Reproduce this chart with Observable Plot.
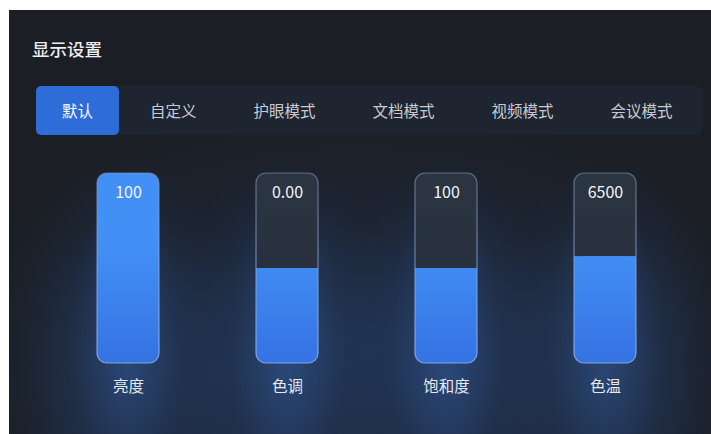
<!DOCTYPE html>
<html><head><meta charset="utf-8">
<script src="https://cdn.jsdelivr.net/npm/d3@7"></script>
<script src="https://cdn.jsdelivr.net/npm/@observablehq/plot@0.6"></script>
<style>
body{margin:0;background:#fff;width:711px;height:434px;overflow:hidden;font-family:"Noto Sans CJK SC","Noto Sans",sans-serif;}
#panel{position:absolute;left:9px;top:10px;width:702px;height:424px;overflow:hidden;
  background: radial-gradient(ellipse 440px 250px at 50% 78%, rgba(35,60,100,0.4), rgba(35,60,100,0) 100%), #1b1e24;}
#title{position:absolute;left:23px;top:30px;line-height:18px;font-size:17.5px;font-weight:500;color:#eceef2;}
#tabs{position:absolute;left:27px;top:76px;width:667px;height:49px;background:#1f2530;border-radius:8px;display:flex;gap:5px;align-items:center;}
.tab{padding:0 26px;height:49px;line-height:49px;font-size:15.5px;color:#c6cbd3;border-radius:5px;white-space:nowrap;}
.tab.active{background:#2e6cd8;color:#fff;}
#chart{position:absolute;left:0;top:125px;}
</style></head>
<body>
<div id="panel">
  <div id="title">显示设置</div>
  <div id="tabs"></div>
  <div id="chart"></div>
</div>
<script>
const tabNames = ["默认","自定义","护眼模式","文档模式","视频模式","会议模式"];
const activeTab = "默认";
const names = ["亮度","色调","饱和度","色温"];
const values = [100, 0, 100, 6500];
const valueLabels = ["100","0.00","100","6500"];
const mins = [0, -1, 0, 2000];
const maxs = [100, 1, 200, 10000];

const tabs = document.getElementById("tabs");
for (const t of tabNames) {
  const el = document.createElement("div");
  el.className = "tab" + (t === activeTab ? " active" : "");
  el.textContent = t;
  tabs.appendChild(el);
}

const rows = names.map((name, i) => ({
  name, value: values[i], label: valueLabels[i],
  frac: (values[i] - mins[i]) / (maxs[i] - mins[i])
}));

const svg = Plot.plot({
  width: 702, height: 299,
  style: {background: "transparent", fontFamily: '"Noto Sans CJK SC","Noto Sans",sans-serif', overflow: "hidden"},
  x: {domain: names, range: [39.4, 676.6], paddingInner: 0.61, paddingOuter: 0.305, axis: null},
  y: {domain: [0, 1], range: [228, 38], axis: null},
  marks: [
    Plot.barY(rows, {x: "name", y1: -1.1, y2: 1.2, fill: "url(#glow)", insetLeft: -95, insetRight: -95}),
    Plot.barY(rows, {x: "name", y1: -0.6, y2: 0.95, fill: "url(#glow2)", insetLeft: -30, insetRight: -30}),
    Plot.barY(rows, {x: "name", y1: 0, y2: 1, fill: "url(#track)", rx: 10}),
    Plot.barY(rows, {x: "name", y1: 0, y2: "frac", fill: "url(#fillGrad)", rx: 10}),
    Plot.barY(rows.filter(d => d.frac < 1), {x: "name", y1: d => d.frac / 2, y2: "frac", fill: "url(#fillGrad)"}),
    Plot.barY(rows, {x: "name", y1: 0, y2: 1, fill: "none", stroke: "url(#outline)", strokeWidth: 1.2, rx: 10}),
    Plot.text(rows, {x: "name", y: 1, dy: 19, text: "label", fill: "#f2f4f8", fontSize: 16}),
    Plot.text(rows, {x: "name", y: 0, dy: 24, text: "name", fill: "#e6e9ee", fontSize: 15.5})
  ]
});

const defs = d3.select(svg).insert("defs", ":first-child");
const glow = defs.append("radialGradient").attr("id", "glow").attr("cx", 0.5).attr("cy", 0.55).attr("r", 0.5);
glow.append("stop").attr("offset", 0).attr("stop-color", "rgb(50,95,170)").attr("stop-opacity", 0.36);
glow.append("stop").attr("offset", 0.6).attr("stop-color", "rgb(40,75,135)").attr("stop-opacity", 0.2);
glow.append("stop").attr("offset", 1).attr("stop-color", "rgb(30,50,90)").attr("stop-opacity", 0);
const glow2 = defs.append("radialGradient").attr("id", "glow2").attr("cx", 0.5).attr("cy", 0.55).attr("r", 0.5);
glow2.append("stop").attr("offset", 0).attr("stop-color", "rgb(60,110,190)").attr("stop-opacity", 0.3);
glow2.append("stop").attr("offset", 0.7).attr("stop-color", "rgb(50,95,170)").attr("stop-opacity", 0.1);
glow2.append("stop").attr("offset", 1).attr("stop-color", "rgb(40,80,150)").attr("stop-opacity", 0);
const track = defs.append("linearGradient").attr("id", "track").attr("gradientUnits", "userSpaceOnUse")
  .attr("x1", 0).attr("x2", 0).attr("y1", 38).attr("y2", 228);
track.append("stop").attr("offset", 0).attr("stop-color", "#2c3643");
track.append("stop").attr("offset", 1).attr("stop-color", "#222a35");
const fg = defs.append("linearGradient").attr("id", "fillGrad").attr("gradientUnits", "userSpaceOnUse")
  .attr("x1", 0).attr("x2", 0).attr("y1", 110).attr("y2", 228);
fg.append("stop").attr("offset", 0).attr("stop-color", "#4290f6");
fg.append("stop").attr("offset", 1).attr("stop-color", "#3572e2");
const ol = defs.append("linearGradient").attr("id", "outline").attr("gradientUnits", "userSpaceOnUse")
  .attr("x1", 0).attr("x2", 0).attr("y1", 38).attr("y2", 228);
ol.append("stop").attr("offset", 0).attr("stop-color", "#8398b5").attr("stop-opacity", 0.6);
ol.append("stop").attr("offset", 1).attr("stop-color", "#94b8f4").attr("stop-opacity", 0.8);

document.getElementById("chart").appendChild(svg);
</script>
</body></html>
